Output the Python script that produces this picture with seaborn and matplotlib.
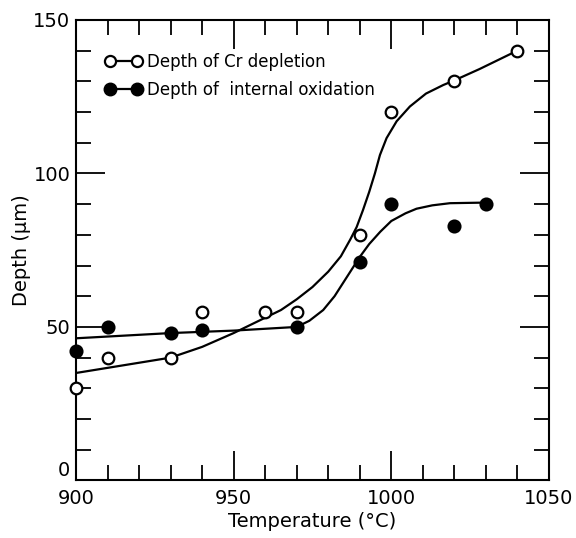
#plot.py

import matplotlib.pyplot as plt
import seaborn as sns
from matplotlib.lines import Line2D
from matplotlib.ticker import MultipleLocator

# measured points
temp_cr = [900, 910, 930, 940, 960, 970, 990, 1000, 1020, 1040]
depth_cr = [30, 40, 40, 55, 55, 55, 80, 120, 130, 140]

temp_ox = [900, 910, 930, 940, 970, 990, 1000, 1020, 1030]
depth_ox = [42, 50, 48, 49, 50, 71, 90, 83, 90]

# hand-drawn fit curves
curve_cr_t = [900, 915, 930, 940, 950, 958, 965, 970, 975, 980, 984, 987,
              989, 991, 993, 994.8, 996.4, 998.5, 1001.7, 1005.9, 1011,
              1016.5, 1020, 1028, 1040]
curve_cr_d = [35, 37.5, 40, 43.5, 48, 52, 55.5, 59, 63, 68, 73, 78.5,
              82.5, 88, 94, 100, 106, 111.5, 117, 121.8, 126,
              128.8, 130.3, 134, 140]

curve_ox_t = [900, 930, 950, 970, 974, 978.4, 982, 986, 990, 993, 996.5,
              1000, 1004.5, 1008, 1013, 1018.6, 1030]
curve_ox_d = [46.3, 48, 48.8, 50, 52, 55.5, 60, 66.4, 72.8, 77, 81,
              84.5, 87, 88.5, 89.6, 90.3, 90.5]

x_ticks = [900, 950, 1000, 1050]
y_ticks = [0, 50, 100, 150]

sns.set_style("ticks")
plt.rcParams["font.family"] = ["DejaVu Sans"]
plt.rcParams["text.color"] = "black"
plt.rcParams["axes.labelcolor"] = "black"

fig = plt.figure(figsize=(5.76, 5.38), dpi=100)
ax = fig.add_axes([0.132, 0.107, 0.821, 0.856])

sns.lineplot(x=curve_cr_t, y=curve_cr_d, ax=ax, color="black", lw=1.6, sort=False)
sns.lineplot(x=curve_ox_t, y=curve_ox_d, ax=ax, color="black", lw=1.6, sort=False)

sns.scatterplot(x=temp_cr, y=depth_cr, ax=ax, s=70, facecolor="white",
                edgecolor="black", linewidth=1.6, zorder=5, clip_on=False)
sns.scatterplot(x=temp_ox, y=depth_ox, ax=ax, s=80, color="black",
                edgecolor="black", linewidth=1.2, zorder=5, clip_on=False)

ax.set_xlim(900, 1050)
ax.set_ylim(0, 150)
ax.set_xticks(x_ticks)
ax.set_yticks(y_ticks)
ax.xaxis.set_minor_locator(MultipleLocator(10))
ax.yaxis.set_minor_locator(MultipleLocator(10))
ax.tick_params(which="both", direction="in", top=True, right=True,
               width=1.3, labelsize=14, colors="black")
ax.tick_params(which="major", length=21)
ax.tick_params(which="minor", length=11)
ax.tick_params(axis="x", which="major", pad=6)
ax.tick_params(axis="y", which="major", pad=4)
for sp in ax.spines.values():
    sp.set_linewidth(1.5)
    sp.set_color("black")

# the "0" sits a little above the corner, clear of "900"
ax.yaxis.get_major_ticks()[0].label1.set_verticalalignment("bottom")

ax.set_xlabel("Temperature (°C)", fontsize=14, labelpad=3)
ax.set_ylabel("Depth (μm)", fontsize=14, labelpad=2)

handles = [
    Line2D([], [], color="black", lw=1.6, marker="o", markersize=8,
           markerfacecolor="white", markeredgewidth=1.6),
    Line2D([], [], color="black", lw=1.6, marker="o", markersize=9,
           markerfacecolor="black"),
]
ax.legend(handles, ["Depth of Cr depletion", "Depth of  internal oxidation"],
          loc="upper left", bbox_to_anchor=(0.03, 0.96), frameon=False,
          numpoints=2, handlelength=2.2, handletextpad=0.3, fontsize=12,
          labelspacing=0.6)

fig.savefig("out.png", dpi=100)
